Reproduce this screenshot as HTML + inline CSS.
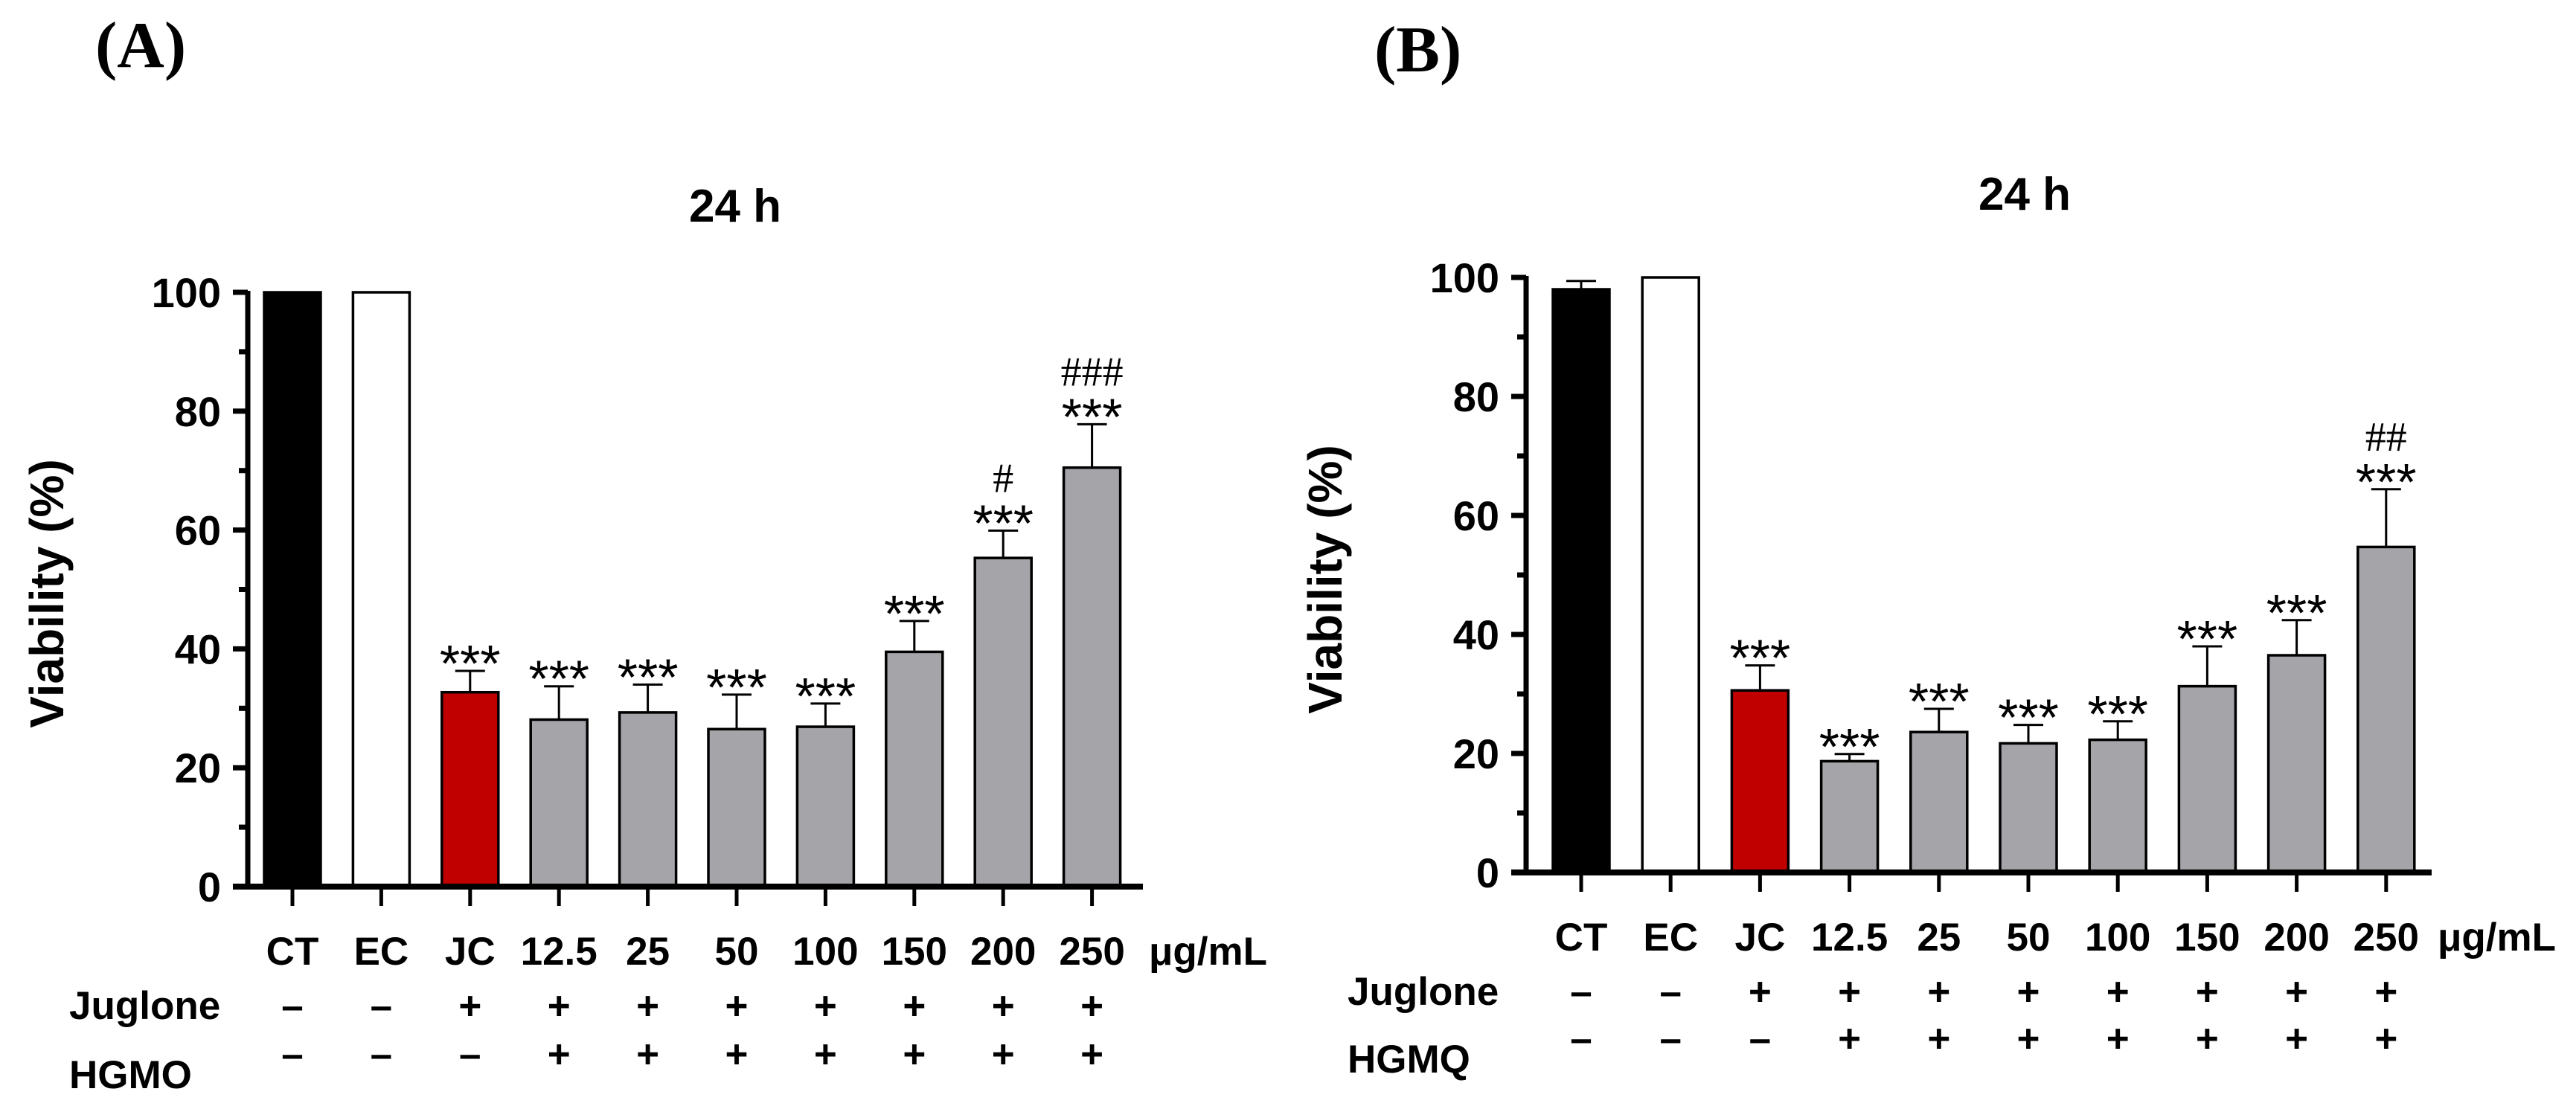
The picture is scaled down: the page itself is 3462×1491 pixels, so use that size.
<!DOCTYPE html>
<html><head><meta charset="utf-8"><style>
html,body{margin:0;padding:0;background:#fff;width:3462px;height:1491px;overflow:hidden}
svg{display:block}
text{font-family:"Liberation Sans",Arial,sans-serif;font-weight:bold;fill:#000}
.ser{font-family:"Liberation Serif","Times New Roman",serif;font-weight:bold}
</style></head><body>
<svg id="fig" width="3462" height="1491" viewBox="0 0 3462 1491" xmlns="http://www.w3.org/2000/svg"></svg>
<script>
const categories = ["CT","EC","JC","12.5","25","50","100","150","200","250"];
const valuesA = [100,100,32.7,28.1,29.3,26.5,26.9,39.5,55.3,70.5];
const errTopA = [null,null,36.3,33.7,34.0,32.3,30.8,44.7,59.9,77.8];
const starsA = ["","","***","***","***","***","***","***","***","***"];
const hashA = ["","","","","","","","","#","###"];
const valuesB = [98.0,100,30.6,18.7,23.6,21.7,22.3,31.3,36.5,54.7];
const errTopB = [99.4,null,34.8,19.9,27.5,24.8,25.4,38.0,42.4,64.4];
const starsB = ["","","***","***","***","***","***","***","***","***"];
const hashB = ["","","","","","","","","","##"];
const juglone = ["–","–","+","+","+","+","+","+","+","+"];
const extract = ["–","–","–","+","+","+","+","+","+","+"];
const yTicks = [0,20,40,60,80,100];
const yMinor = [10,30,50,70,90];
const colors = ["#000000","#ffffff","#c00000","#a4a4a9","#a4a4a9","#a4a4a9","#a4a4a9","#a4a4a9","#a4a4a9","#a4a4a9"];

const NS="http://www.w3.org/2000/svg";
const svg=document.getElementById('fig');
function mk(tag,attrs,parent,txt){const e=document.createElementNS(NS,tag);for(const k in attrs)e.setAttribute(k,attrs[k]);if(txt!==undefined)e.textContent=txt;(parent||svg).appendChild(e);return e;}

function panel(cfg){
  const g=mk('g',{});
  
  
  const y=v=>cfg.y0-(cfg.y0-cfg.y100)*v/100;
  const x=i=>cfg.x0+i*cfg.step;
  let t=mk('text',{x:cfg.lx,y:cfg.ly,'font-size':88,class:'ser'},g,cfg.letter);
  
  
  t=mk('text',{x:cfg.tx,y:cfg.ty,'font-size':62,'text-anchor':'middle'},g,'24 h');
  
  
  t=mk('text',{x:0,y:0,'font-size':64,'text-anchor':'middle',transform:`translate(${cfg.ax-248},${cfg.ylabY}) rotate(-90)`},g,'Viability (%)');
  
  
  cfg.vals.forEach((v,i)=>{
    if(cfg.err[i]!=null){
      let l=mk('line',{x1:x(i),x2:x(i),y1:y(v),y2:y(cfg.err[i]),stroke:'#000','stroke-width':3},g);
      
      
      l=mk('line',{x1:x(i)-20,x2:x(i)+20,y1:y(cfg.err[i]),y2:y(cfg.err[i]),stroke:'#000','stroke-width':3},g);
      
      
    }
    const r=mk('rect',{x:x(i)-38,y:y(v),width:76,height:cfg.y0-y(v),fill:colors[i],stroke:'#000','stroke-width':3.5},g);
    
    
    const top=cfg.err[i]!=null?y(cfg.err[i]):y(v);
    if(cfg.stars[i]){
      const s=mk('text',{x:x(i),y:top+14,'font-size':70,'text-anchor':'middle',style:'font-weight:normal'},g,cfg.stars[i]);
      
      
    }
    if(cfg.hash[i]){
      const h=mk('text',{x:x(i),y:top-52,'font-size':56,'text-anchor':'middle',class:'ser',style:'font-weight:normal'},g,cfg.hash[i]);
      
      
    }
    const c=mk('text',{x:x(i),y:cfg.catY,'font-size':53,'text-anchor':'middle'},g,categories[i]);
    
    
    const j=mk('text',{x:x(i),y:cfg.jY,'font-size':53,'text-anchor':'middle'},g,juglone[i]);
    
    
    const e=mk('text',{x:x(i),y:cfg.eY,'font-size':53,'text-anchor':'middle'},g,extract[i]);
    
    
    const tk=mk('line',{x1:x(i),x2:x(i),y1:cfg.y0,y2:cfg.y0+26,stroke:'#000','stroke-width':5},g);
    
    
  });
  let a=mk('line',{x1:cfg.ax,x2:cfg.ax,y1:y(100)-2,y2:cfg.y0+4,stroke:'#000','stroke-width':7},g);
  
  
  a=mk('line',{x1:cfg.ax-20,x2:cfg.xEnd,y1:cfg.y0,y2:cfg.y0,stroke:'#000','stroke-width':8},g);
  
  
  yTicks.forEach(v=>{
    const l=mk('line',{x1:cfg.ax-20,x2:cfg.ax,y1:y(v),y2:y(v),stroke:'#000','stroke-width':7},g);
    
    
    const tt=mk('text',{x:cfg.ax-36,y:y(v)+20,'font-size':56,'text-anchor':'end'},g,String(v));
    
    
  });
  yMinor.forEach(v=>{
    const l=mk('line',{x1:cfg.ax-12,x2:cfg.ax,y1:y(v),y2:y(v),stroke:'#000','stroke-width':7},g);
    
    
  });
  t=mk('text',{x:cfg.xEnd+8,y:cfg.catY,'font-size':53},g,'μg/mL');
  
  
  t=mk('text',{x:cfg.ax-240,y:cfg.jY,'font-size':53},g,'Juglone');
  
  
  t=mk('text',{x:cfg.ax-240,y:cfg.eY+28,'font-size':53},g,cfg.extractName);
  
  
}
panel({name:'panel-a',letter:'(A)',lx:128,ly:90,tx:988,ty:298,ylabY:798,y0:1192,y100:393,x0:393,step:119.4,ax:333,xEnd:1536,
  vals:valuesA,err:errTopA,stars:starsA,hash:hashA,catY:1297,jY:1370,eY:1435,extractName:'HGMO'});
panel({name:'panel-b',letter:'(B)',lx:1847,ly:96,tx:2721,ty:282,ylabY:779,y0:1173,y100:373,x0:2125,step:120.2,ax:2051,xEnd:3268,
  vals:valuesB,err:errTopB,stars:starsB,hash:hashB,catY:1278,jY:1351,eY:1414,extractName:'HGMQ'});
</script>
</body></html>
